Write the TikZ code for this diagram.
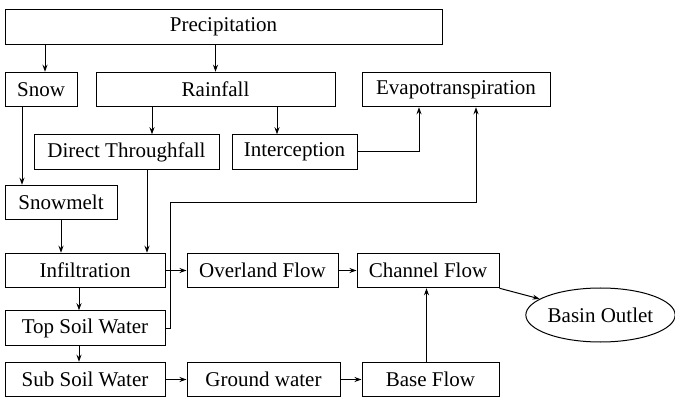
\documentclass[tikz,border=0pt]{standalone}
\usepackage{fontspec}
\setmainfont{Liberation Serif}
\usetikzlibrary{shapes.geometric,arrows.meta}

\begin{document}
\begin{tikzpicture}[x=1pt,y=-1pt,
    box/.style={draw,line width=1pt,inner sep=0pt,minimum height=34.5pt,
      font=\fontsize{21}{25}\selectfont},
    arr/.style={-{Stealth[length=7pt,width=5pt]},line width=1pt}]
  \useasboundingbox (0,0) rectangle (675,398);
  % top rows
  \node[box,minimum width=437pt] (prec)  at (223.5,27)   {Precipitation};
  \node[box,minimum width=72pt]  (snow)  at (41,89.5)    {Snow};
  \node[box,minimum width=239pt] (rain)  at (215.5,89.5) {Rainfall};
  \node[box,minimum width=188pt] (evap)  at (456,89.5)   {Evapotranspiration};
  \node[box,minimum width=185pt] (dtf)   at (126.5,152)  {Direct Throughfall};
  \node[box,minimum width=125pt] (intc)  at (294.5,152)  {Interception};
  \node[box,minimum width=112pt] (smelt) at (61,202.5)   {Snowmelt};
  % lower rows
  \node[box,minimum width=160pt] (infl)   at (85,270.5)    {Infiltration};
  \node[box,minimum width=151pt] (over)   at (262.5,270.5) {Overland Flow};
  \node[box,minimum width=142pt] (chan)   at (428,270.5)   {Channel Flow};
  \node[box,minimum width=160pt] (top)    at (85,328)      {Top Soil Water};
  \node[box,minimum width=160pt] (sub)    at (85,379.5)    {Sub Soil Water};
  \node[box,minimum width=153pt] (ground) at (263.5,379.5) {Ground water};
  \node[box,minimum width=137pt] (base)   at (430.5,379.5) {Base Flow};
  \node[box,ellipse,minimum width=146pt,minimum height=54pt] (outlet) at (600.5,315) {Basin Outlet};
  \coordinate (bend) at (170,203);

  \path[arr]
    ([xshift=4pt]snow.north |- prec.south) edge ([xshift=4pt]snow.north)
    (prec.south -| rain.north) edge (rain.north)
    ([xshift=-19pt]snow.south) edge ([xshift=-19pt]snow.south |- smelt.north)
    ([xshift=-63.5pt]rain.south) edge ([xshift=-63.5pt]rain.south |- dtf.north)
    ([xshift=61.5pt]rain.south) edge ([xshift=61.5pt]rain.south |- intc.north)
    ([xshift=20.5pt]dtf.south) edge ([xshift=20.5pt]dtf.south |- infl.north)
    (smelt.south) edge (smelt.south |- infl.north)
    (infl.east) edge (over.west)
    (over.east) edge (chan.west)
    ([xshift=-6pt]infl.south) edge ([xshift=-6pt]top.north)
    ([xshift=-6pt]top.south) edge ([xshift=-6pt]sub.north)
    (sub.east) edge (ground.west)
    (ground.east) edge (base.west)
    ([xshift=-4pt]base.north) edge ([xshift=-4pt]base.north |- chan.south)
    (chan.south east) edge (outlet);
  \draw[arr] (intc.east) -| ([xshift=-37pt]evap.south);
  \draw[arr] (top.east) -| (bend) -| ([xshift=20pt]evap.south);
\end{tikzpicture}
\end{document}
